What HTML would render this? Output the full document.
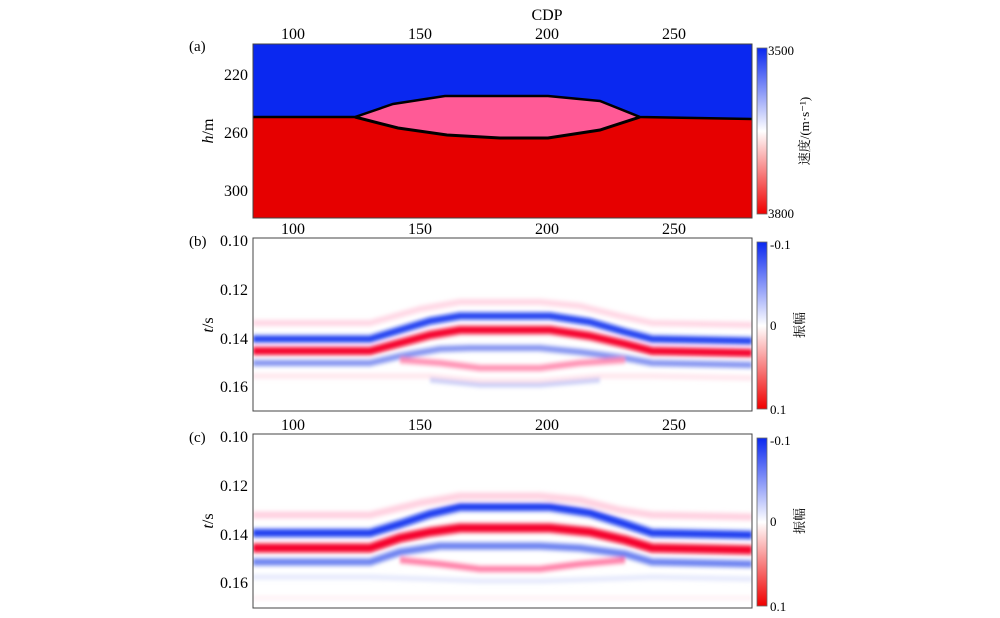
<!DOCTYPE html>
<html><head><meta charset="utf-8"><style>
body{margin:0;background:#fff;}
svg{display:block;font-family:"Liberation Serif","Noto Serif CJK SC",serif;}
</style></head><body>
<svg width="1000" height="618" viewBox="0 0 1000 618" xmlns="http://www.w3.org/2000/svg">
<defs>
<linearGradient id="cb" x1="0" y1="0" x2="0" y2="1">
<stop offset="0" stop-color="#0a28f0"/><stop offset="0.5" stop-color="#ffffff"/><stop offset="1" stop-color="#f00000"/>
</linearGradient>
<filter id="bl" x="-5%" y="-50%" width="110%" height="200%"><feGaussianBlur stdDeviation="1.5 2.2"/></filter>
<clipPath id="cpb"><rect x="253" y="238" width="499" height="173"/></clipPath>
<clipPath id="cpc"><rect x="253" y="434" width="499" height="174"/></clipPath>
</defs>
<rect x="253" y="44" width="499" height="174" fill="#0a28f0"/>
<polygon points="253,117 355,117 398,128 447,135 500,138 548,138 600,130 640,117 752,119 752,218 253,218" fill="#e60000"/>
<polygon points="355,117 393,104 445,96 548,96 600,101 640,117 600,130 548,138 500,138 447,135 398,128" fill="#ff5a96"/>
<polyline points="253,117 355,117 393,104 445,96 548,96 600,101 640,117 752,119" fill="none" stroke="#000" stroke-width="2.5"/>
<polyline points="355,117 398,128 447,135 500,138 548,138 600,130 640,117" fill="none" stroke="#000" stroke-width="3"/>
<rect x="253" y="44" width="499" height="174" fill="none" stroke="#444" stroke-width="1"/>
<text x="547" y="20" font-size="16" text-anchor="middle">CDP</text>
<g font-size="16" text-anchor="middle">
<text x="293" y="39">100</text><text x="420" y="39">150</text><text x="547" y="39">200</text><text x="674" y="39">250</text>
<text x="293" y="234">100</text><text x="420" y="234">150</text><text x="547" y="234">200</text><text x="674" y="234">250</text>
<text x="293" y="430">100</text><text x="420" y="430">150</text><text x="547" y="430">200</text><text x="674" y="430">250</text>
</g>
<g font-size="16" text-anchor="end">
<text x="248" y="80">220</text><text x="248" y="138">260</text><text x="248" y="196">300</text>
<text x="248" y="246">0.10</text><text x="248" y="295">0.12</text><text x="248" y="344">0.14</text><text x="248" y="392">0.16</text>
<text x="248" y="442">0.10</text><text x="248" y="491">0.12</text><text x="248" y="540">0.14</text><text x="248" y="588">0.16</text>
</g>
<text x="189" y="51" font-size="15">(a)</text>
<text x="189" y="246" font-size="15">(b)</text>
<text x="189" y="442" font-size="15">(c)</text>
<text transform="translate(213,131) rotate(-90)" font-size="16" text-anchor="middle"><tspan font-style="italic">h</tspan>/m</text>
<text transform="translate(213,325) rotate(-90)" font-size="16" text-anchor="middle"><tspan font-style="italic">t</tspan>/s</text>
<text transform="translate(213,521) rotate(-90)" font-size="16" text-anchor="middle"><tspan font-style="italic">t</tspan>/s</text>
<rect x="757" y="48" width="10" height="166" fill="url(#cb)" stroke="#666" stroke-width="0.8"/>
<text x="768" y="55" font-size="13">3500</text><text x="768" y="218" font-size="13">3800</text>
<text transform="translate(809,131) rotate(-90)" font-size="13" text-anchor="middle">速度/(m·s⁻¹)</text>
<rect x="757" y="242" width="10" height="167" fill="url(#cb)" stroke="#666" stroke-width="0.8"/>
<text x="770" y="249" font-size="13">-0.1</text><text x="770" y="330" font-size="13">0</text><text x="770" y="414" font-size="13">0.1</text>
<text transform="translate(804,325) rotate(-90)" font-size="13" text-anchor="middle">振幅</text>
<rect x="757" y="438" width="10" height="168" fill="url(#cb)" stroke="#666" stroke-width="0.8"/>
<text x="770" y="445" font-size="13">-0.1</text><text x="770" y="526" font-size="13">0</text><text x="770" y="611" font-size="13">0.1</text>
<text transform="translate(804,521) rotate(-90)" font-size="13" text-anchor="middle">振幅</text>
<g clip-path="url(#cpb)"><g filter="url(#bl)" fill="none" stroke-linejoin="round">
<polyline points="253,323 370,323 420,309 460,302 540,302 580,306 620,316 652,323 752,325" stroke="#ffd6e4" stroke-width="6"/>
<polyline points="253,339 370,339 400,330 430,321 460,316 550,316 590,322 625,332 652,339 752,341" stroke="#1e3cf0" stroke-width="7"/>
<polyline points="253,351 370,351 400,343 430,335 460,330 550,330 590,336 625,344 652,351 752,353" stroke="#f5002a" stroke-width="8"/>
<polyline points="253,363 370,363 400,356 440,349 470,348 540,348 580,352 625,358 652,363 752,365" stroke="#8090f0" stroke-width="6"/>
<polyline points="400,360 440,363 480,368 540,368 580,363 625,360" stroke="#ff8cb0" stroke-width="6"/>
<polyline points="253,376 370,376 430,376 480,381 540,381 600,376 652,376 752,378" stroke="#ffe4ec" stroke-width="5"/>
<polyline points="430,380 480,385 540,385 600,380" stroke="#c0c6f6" stroke-width="4"/>
</g></g>
<rect x="253" y="238" width="499" height="173" fill="none" stroke="#444" stroke-width="1"/>
<g clip-path="url(#cpc)"><g filter="url(#bl)" fill="none" stroke-linejoin="round">
<polyline points="253,515 370,515 420,503 460,496 540,496 580,500 620,510 652,515 752,517" stroke="#ffd0e0" stroke-width="7"/>
<polyline points="253,533 370,533 400,524 430,514 460,507 550,507 590,513 625,524 652,533 752,535" stroke="#1e3cf0" stroke-width="8"/>
<polyline points="253,548 370,548 400,538 430,532 460,528 550,528 590,532 625,540 652,548 752,550" stroke="#f5002a" stroke-width="9"/>
<polyline points="253,562 370,562 400,552 440,546 470,546 540,546 580,548 625,554 652,562 752,564" stroke="#6a80f0" stroke-width="7"/>
<polyline points="400,560 440,564 480,569 540,569 580,564 625,560" stroke="#ff7aa4" stroke-width="6"/>
<polyline points="253,577 370,577 430,579 480,581 540,581 600,579 652,577 752,579" stroke="#e4e8fc" stroke-width="5"/>
<polyline points="253,598 752,598" stroke="#fff0f4" stroke-width="4"/>
</g></g>
<rect x="253" y="434" width="499" height="174" fill="none" stroke="#444" stroke-width="1"/>
</svg>
</body></html>
